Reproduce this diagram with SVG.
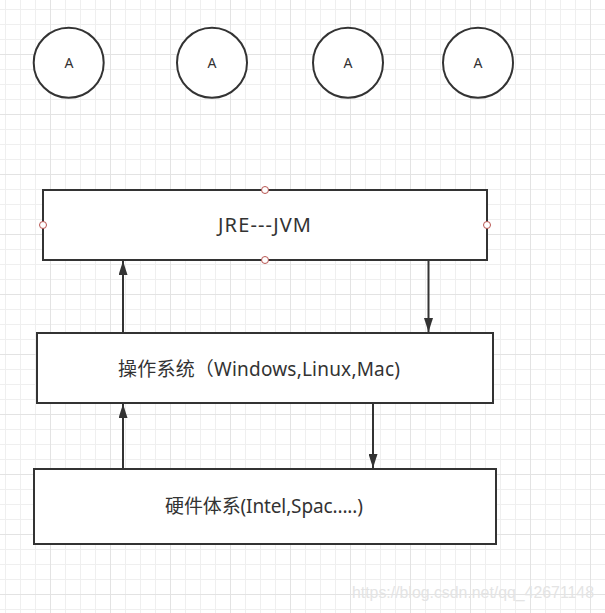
<svg xmlns="http://www.w3.org/2000/svg" width="605" height="613" viewBox="0 0 605 613">
  <style>
    .node { fill: #ffffff; stroke: #333333; stroke-width: 2; }
    .lbl { fill: #333333; font-family: "Noto Sans", "Noto Sans CJK SC", sans-serif; text-anchor: middle; }
    .big { font-size: 19px; }
    .small { font-size: 14px; }
    .edge { stroke: #333333; stroke-width: 2; fill: none; }
    .port { fill: #ffffff; stroke: #b85450; stroke-width: 1; }
    .wm { fill: #e4e4e4; font-family: "Liberation Sans", Arial, sans-serif; font-size: 17px; }
  </style>
  <defs>
    <pattern id="minor" x="5" y="9" width="15" height="15" patternUnits="userSpaceOnUse">
      <path d="M0.5 0 V15 M0 0.5 H15" stroke="#efefef" stroke-width="1" fill="none"/>
    </pattern>
    <pattern id="major" x="50" y="54" width="60" height="60" patternUnits="userSpaceOnUse">
      <path d="M0.5 0 V60 M0 0.5 H60" stroke="#e3e3e3" stroke-width="1" fill="none"/>
    </pattern>
    <marker id="arrow" markerUnits="userSpaceOnUse" markerWidth="14" markerHeight="9" refX="14" refY="4.5" orient="auto" viewBox="0 0 14 9">
      <path d="M0 0 L14 4.5 L0 9 Z" fill="#333333"/>
    </marker>
  </defs>

  <rect x="0" y="0" width="605" height="613" fill="#ffffff"/>
  <rect x="0" y="0" width="605" height="613" fill="url(#minor)"/>
  <rect x="0" y="0" width="605" height="613" fill="url(#major)"/>

  <g id="connectors">
    <path class="edge" d="M428.5 260 V332" marker-end="url(#arrow)"/>
    <path class="edge" d="M123 333 V261" marker-end="url(#arrow)"/>
    <path class="edge" d="M373 403 V468" marker-end="url(#arrow)"/>
    <path class="edge" d="M123 469 V404" marker-end="url(#arrow)"/>
  </g>

  <g id="circle1">
    <circle class="node" cx="68.7" cy="62.7" r="35"/>
    <text class="lbl small" x="69" y="68">A</text>
  </g>
  <g id="circle2">
    <circle class="node" cx="212" cy="62.7" r="35"/>
    <text class="lbl small" x="212" y="68">A</text>
  </g>
  <g id="circle3">
    <circle class="node" cx="348" cy="62.7" r="35"/>
    <text class="lbl small" x="348" y="68">A</text>
  </g>
  <g id="circle4">
    <circle class="node" cx="478" cy="62.7" r="35"/>
    <text class="lbl small" x="478" y="68">A</text>
  </g>

  <g id="jre">
    <rect class="node" x="43" y="190" width="444" height="70"/>
    <text class="lbl" x="264.5" y="232" font-size="20" textLength="93" lengthAdjust="spacing">JRE---JVM</text>
    <circle class="port" cx="265" cy="190" r="3.5"/>
    <circle class="port" cx="265" cy="260" r="3.5"/>
    <circle class="port" cx="43" cy="225" r="3.5"/>
    <circle class="port" cx="487" cy="225" r="3.5"/>
  </g>

  <g id="os">
    <rect class="node" x="37" y="333" width="456" height="70"/>
    <text class="lbl big" x="259" y="376" textLength="282" lengthAdjust="spacing">操作系统（Windows,Linux,Mac)</text>
  </g>

  <g id="hardware">
    <rect class="node" x="34" y="469" width="462" height="75"/>
    <text class="lbl big" x="264" y="513" textLength="198" lengthAdjust="spacing">硬件体系(Intel,Spac.....)</text>
  </g>

  <text class="wm" x="352" y="598" textLength="242" lengthAdjust="spacingAndGlyphs">https://blog.csdn.net/qq_42671148</text>
</svg>
